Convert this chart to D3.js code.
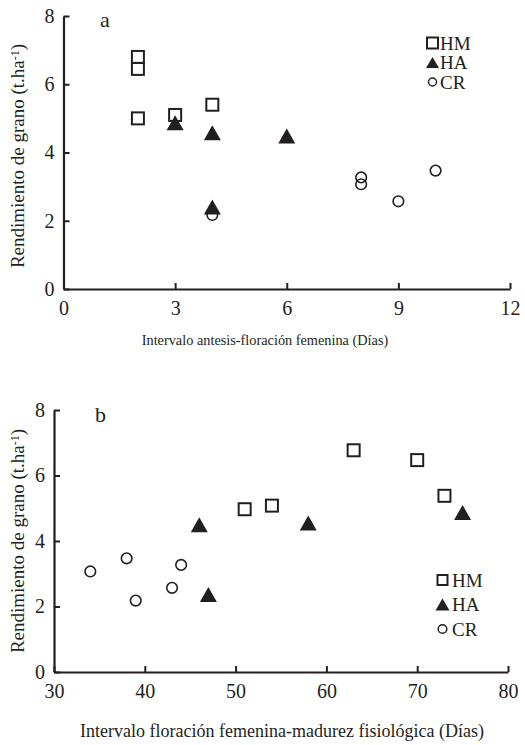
<!DOCTYPE html>
<html><head><meta charset="utf-8">
<script src="https://cdn.jsdelivr.net/npm/d3@7"></script>
<style>body{margin:0;background:#fff}svg{display:block}text{font-family:"Liberation Serif","Times New Roman",serif;fill:#231f20}</style>
</head><body>
<svg id="c" width="525" height="745"></svg>
<script>
// Panel a: Intervalo antesis-floración femenina (días)
const aHM = [[2,6.8],[2,6.45],[2,5.0],[3,5.1],[4,5.4]];
const aHA = [[3,4.87],[4,4.58],[6,4.48],[4,2.4]];
const aCR = [[4,2.17],[8,3.27],[8,3.07],[9,2.57],[10,3.47]];
const aXTicks = [0,3,6,9,12];
// Panel b: Intervalo floración femenina-madurez fisiológica (días)
const bHM = [[51,4.97],[54,5.08],[63,6.77],[70,6.47],[73,5.38]];
const bHA = [[46,4.5],[47,2.37],[58,4.55],[75,4.87]];
const bCR = [[34,3.07],[38,3.47],[39,2.18],[43,2.57],[44,3.27]];
const bXTicks = [30,40,50,60,70,80];
const yTicks = [0,2,4,6,8];
const legendLabels = ["HM","HA","CR"];

const svg = d3.select("#c");
const ink = "#231f20";

function panel(cfg){
  const g = svg.append("g");
  const x = d3.scaleLinear().domain(cfg.xdom).range([cfg.x0, cfg.x1]);
  const y = d3.scaleLinear().domain([0,8]).range([cfg.y0, cfg.y1]);
  // axes
  const xa = g.append("g").attr("transform",`translate(0,${cfg.y0})`)
    .call(d3.axisBottom(x).tickValues(cfg.xticks).tickSize(-6).tickPadding(9).tickSizeOuter(0));
  const ya = g.append("g").attr("transform",`translate(${cfg.x0},0)`)
    .call(d3.axisLeft(y).tickValues(yTicks).tickSize(-6).tickPadding(9).tickSizeOuter(0));
  [xa,ya].forEach(a=>{
    a.select(".domain").attr("stroke",ink).attr("stroke-width",2.2);
    a.selectAll(".tick line").attr("stroke",ink).attr("stroke-width",2);
    a.selectAll(".tick text").style("font-size","20px").attr("fill",ink)
      .style("font-family",'"Liberation Serif",serif');
  });
  xa.selectAll(".tick text").attr("dy","0.71em").attr("y",12);
  ya.selectAll(".tick text").attr("x",-9);
  // panel letter
  g.append("text").attr("x",cfg.letterX).attr("y",cfg.letterY).style("font-size","22px").text(cfg.letter);
  // y title
  const yt = g.append("text").attr("transform",`translate(${cfg.ytx},${cfg.yty}) rotate(-90)`)
    .attr("text-anchor","middle").style("font-size","19px");
  yt.append("tspan").text("Rendimiento de grano (t.ha");
  yt.append("tspan").attr("dy","-0.45em").style("font-size","12px").text("-1");
  yt.append("tspan").attr("dy","0.3em").text(")");
  // x title
  g.append("text").attr("x",cfg.xtx).attr("y",cfg.xty).attr("text-anchor","middle")
    .style("font-size",cfg.xtSize+"px").text(cfg.xtitle);
  // marks
  const tri = (cx,cy,w,h)=>`M${cx},${cy-h/2}L${cx+w/2},${cy+h/2}L${cx-w/2},${cy+h/2}Z`;
  g.selectAll(".hm").data(cfg.HM).join("rect")
    .attr("x",d=>x(d[0])-6).attr("y",d=>y(d[1])-6).attr("width",12).attr("height",12)
    .attr("fill","none").attr("stroke",ink).attr("stroke-width",2);
  g.selectAll(".cr").data(cfg.CR).join("circle")
    .attr("cx",d=>x(d[0])).attr("cy",d=>y(d[1])).attr("r",5.3)
    .attr("fill","none").attr("stroke",ink).attr("stroke-width",1.6);
  g.selectAll(".ha").data(cfg.HA).join("path")
    .attr("d",d=>tri(x(d[0]),y(d[1]),17,15)).attr("fill",ink);
  // legend
  const L = cfg.leg;
  legendLabels.forEach((lab,i)=>{
    const cy = L.y + i*L.dy, cx = L.x;
    if(i===0) g.append("rect").attr("x",cx-L.sq/2).attr("y",cy-L.sq/2).attr("width",L.sq).attr("height",L.sq)
      .attr("fill","none").attr("stroke",ink).attr("stroke-width",2);
    if(i===1) g.append("path").attr("d",tri(cx,cy,L.tw,L.th)).attr("fill",ink);
    if(i===2) g.append("circle").attr("cx",cx).attr("cy",cy).attr("r",L.r).attr("fill","none").attr("stroke",ink).attr("stroke-width",1.5);
    g.append("text").attr("x",L.tx).attr("y",cy+L.base).style("font-size","19px").text(lab);
  });
}

panel({xdom:[0,12], x0:63.5, x1:510, y0:289, y1:16, xticks:aXTicks,
  HM:aHM, HA:aHA, CR:aCR, letter:"a", letterX:100, letterY:27,
  ytx:24, yty:156, xtx:265, xty:345, xtSize:14.3,
  xtitle:"Intervalo antesis-floración femenina (Días)",
  leg:{x:432.5, y:43, dy:19.5, sq:11, tw:13, th:11, r:4, tx:440, base:6.5}});

panel({xdom:[30,80], x0:54, x1:508, y0:672, y1:410, xticks:bXTicks,
  HM:bHM, HA:bHA, CR:bCR, letter:"b", letterX:95, letterY:422,
  ytx:24, yty:541, xtx:282, xty:737, xtSize:18,
  xtitle:"Intervalo floración femenina-madurez fisiológica (Días)",
  leg:{x:442.5, y:580, dy:24.5, sq:10, tw:14, th:12, r:4.3, tx:452, base:6.5}});
</script>
</body></html>
